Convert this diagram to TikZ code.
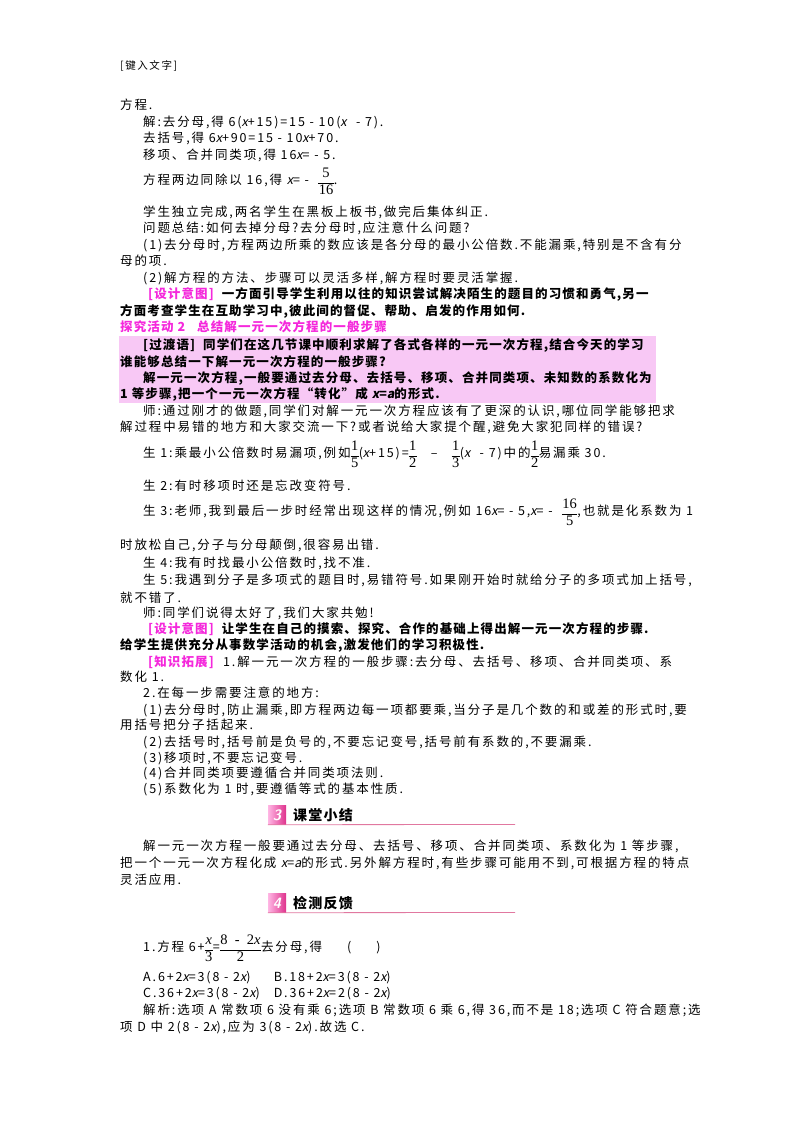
\documentclass[tikz,border=0pt]{standalone}
\usepackage{fontspec}
\newfontfamily\body[LetterSpace=15]{Noto Sans CJK SC}
\newfontfamily\bodyb[LetterSpace=9]{Noto Sans CJK SC}
\newfontfamily\itxf[FakeSlant=0.2]{Noto Sans CJK SC}
\newfontfamily\frfont{Liberation Serif}
\newcommand{\vx}{{\itxf x}}
\newcommand{\va}{{\itxf a}}
\newcommand{\fr}[2]{\raisebox{-0.1em}{\renewcommand{\arraystretch}{1.15}\setlength{\tabcolsep}{0.5pt}\begin{tabular}[c]{c}{\frfont\fontsize{14.5}{15}\selectfont #1}\\\hline{\frfont\fontsize{14.5}{15}\selectfont #2}\end{tabular}}}
\newcommand{\mx}{{\frfont\itshape x}}
\definecolor{mag}{RGB}{245,40,220}
\definecolor{pinkbox}{RGB}{248,200,245}
\definecolor{headpink}{RGB}{222,50,140}
\definecolor{headline}{RGB}{225,120,160}
\tikzset{
  txt/.style={anchor=west,inner sep=0pt,font=\body\fontsize{12.5}{14}\selectfont},
  bold/.style={anchor=west,inner sep=0pt,font=\bodyb\bfseries\fontsize{12.5}{14}\selectfont},
  small/.style={anchor=west,inner sep=0pt,font=\body\fontsize{10.5}{12}\selectfont},
  icon/.style={draw=none,left color=pink!70!magenta!60,right color=headpink,minimum width=18pt,minimum height=19pt,inner sep=0pt,text=white,font=\bfseries\itshape\sffamily\fontsize{15}{15}\selectfont},
  htxt/.style={anchor=west,inner sep=0pt,font=\bodyb\bfseries\fontsize{14}{16}\selectfont},
  hline/.style={headline,line width=0.8pt}
}
\begin{document}
\begin{tikzpicture}[x=1pt,y=-1pt]
\useasboundingbox (0,0) rectangle (800,1132);
\fill[white] (0,0) rectangle (800,1132);
\fill[pinkbox] (119,336) rectangle (656,403);
\node[small] (k0) at (120,66) {[键入文字]};
\node[txt] (l1) at (120,105) {方程.};
\node[txt] (l2) at (143,122) {解:去分母,得 6(\vx+15)=15 - 10(\vx\ \ - 7).};
\node[txt] (l3) at (143,138) {去括号,得 6\vx+90=15 - 10\vx+70.};
\node[txt] (l4) at (143,155) {移项、合并同类项,得 16\vx= - 5.};
\node[txt] (l5) at (143,183) {方程两边同除以 16,得 \vx= - \ \fr{5}{16}.};
\node[txt] (l6) at (143,212) {学生独立完成,两名学生在黑板上板书,做完后集体纠正.};
\node[txt] (l7) at (143,228) {问题总结:如何去掉分母?去分母时,应注意什么问题?};
\node[txt] (l8) at (143,245) {(1)去分母时,方程两边所乘的数应该是各分母的最小公倍数.不能漏乘,特别是不含有分};
\node[txt] (l9) at (120,261) {母的项.};
\node[txt] (l10) at (143,278) {(2)解方程的方法、步骤可以灵活多样,解方程时要灵活掌握.};
\node[bold] (l11) at (148,294) {\textcolor{mag}{[设计意图]}\ \ 一方面引导学生利用以往的知识尝试解决陌生的题目的习惯和勇气,另一};
\node[bold] (l12) at (120,311) {方面考查学生在互助学习中,彼此间的督促、帮助、启发的作用如何.};
\node[bold,text=mag] (l13) at (120,327) {探究活动 2\ \ \ 总结解一元一次方程的一般步骤};
\node[bold] (l14) at (143,345) {[过渡语]\ \ 同学们在这几节课中顺利求解了各式各样的一元一次方程,结合今天的学习};
\node[bold] (l15) at (120,362) {谁能够总结一下解一元一次方程的一般步骤?};
\node[bold] (l16) at (143,378) {解一元一次方程,一般要通过去分母、去括号、移项、合并同类项、未知数的系数化为};
\node[bold] (l17) at (120,394) {1 等步骤,把一个一元一次方程“转化”成 \vx=\va 的形式.};
\node[txt] (l18) at (143,411) {师:通过刚才的做题,同学们对解一元一次方程应该有了更深的认识,哪位同学能够把求};
\node[txt] (l19) at (120,427) {解过程中易错的地方和大家交流一下?或者说给大家提个醒,避免大家犯同样的错误?};
\node[txt] (l20) at (143,456) {生 1:乘最小公倍数时易漏项,例如\fr{1}{5}(\vx+15)=\fr{1}{2}\ \ \ – \ \ \fr{1}{3}(\vx\ \ - 7)中的\fr{1}{2}易漏乘 30.};
\node[txt] (l21) at (143,486) {生 2:有时移项时还是忘改变符号.};
\node[txt] (l22) at (143,514) {生 3:老师,我到最后一步时经常出现这样的情况,例如 16\vx= - 5,\vx= - \ \fr{16}{5},也就是化系数为 1};
\node[txt] (l23) at (120,545) {时放松自己,分子与分母颠倒,很容易出错.};
\node[txt] (l24) at (143,563) {生 4:我有时找最小公倍数时,找不准.};
\node[txt] (l25) at (143,580) {生 5:我遇到分子是多项式的题目时,易错符号.如果刚开始时就给分子的多项式加上括号,};
\node[txt] (l26) at (120,598) {就不错了.};
\node[txt] (l27) at (143,613) {师:同学们说得太好了,我们大家共勉!};
\node[bold] (l28) at (148,629) {\textcolor{mag}{[设计意图]}\ \ 让学生在自己的摸索、探究、合作的基础上得出解一元一次方程的步骤.};
\node[bold] (l29) at (120,646) {给学生提供充分从事数学活动的机会,激发他们的学习积极性.};
\node[txt] (l30) at (148,662) {\textcolor{mag}{\bodyb\bfseries [知识拓展]}\ \ 1.解一元一次方程的一般步骤:去分母、去括号、移项、合并同类项、系};
\node[txt] (l31) at (120,677) {数化 1.};
\node[txt] (l32) at (143,693) {2.在每一步需要注意的地方:};
\node[txt] (l33) at (143,710) {(1)去分母时,防止漏乘,即方程两边每一项都要乘,当分子是几个数的和或差的形式时,要};
\node[txt] (l34) at (120,725) {用括号把分子括起来.};
\node[txt] (l35) at (143,742) {(2)去括号时,括号前是负号的,不要忘记变号,括号前有系数的,不要漏乘.};
\node[txt] (l36) at (143,758) {(3)移项时,不要忘记变号.};
\node[txt] (l37) at (143,773) {(4)合并同类项要遵循合并同类项法则.};
\node[txt] (l38) at (143,789) {(5)系数化为 1 时,要遵循等式的基本性质.};
% heading 3
\node[icon] (i3) at (277,815) {3};
\node[htxt] (h3) at (293,815) {课堂小结};
\draw[hline] (i3.south west) -- (515,824.5);
\node[txt] (l39) at (143,846) {解一元一次方程一般要通过去分母、去括号、移项、合并同类项、系数化为 1 等步骤,};
\node[txt] (l40) at (120,863) {把一个一元一次方程化成 \vx=\va 的形式.另外解方程时,有些步骤可能用不到,可根据方程的特点};
\node[txt] (l41) at (120,880) {灵活应用.};
% heading 4
\node[icon] (i4) at (277,903) {4};
\node[htxt] (h4) at (293,903) {检测反馈};
\draw[hline] (i4.south west) -- (515,912.5);
\node[txt] (l42) at (143,950) {1.方程 6+\fr{\mx}{3}=\fr{8\ \ -\ \ 2\mx}{2}去分母,得\qquad (\qquad )};
\node[txt] (l43) at (143,978) {A.6+2\vx=3(8 - 2\vx)\ \ \ \ \ B.18+2\vx=3(8 - 2\vx)};
\node[txt] (l44) at (143,994) {C.36+2\vx=3(8 - 2\vx)\ \ \ D.36+2\vx=2(8 - 2\vx)};
\node[txt] (l45) at (143,1010) {解析:选项 A 常数项 6 没有乘 6;选项 B 常数项 6 乘 6,得 36,而不是 18;选项 C 符合题意;选};
\node[txt] (l46) at (120,1027) {项 D 中 2(8 - 2\vx),应为 3(8 - 2\vx).故选 C.};
\end{tikzpicture}
\end{document}
